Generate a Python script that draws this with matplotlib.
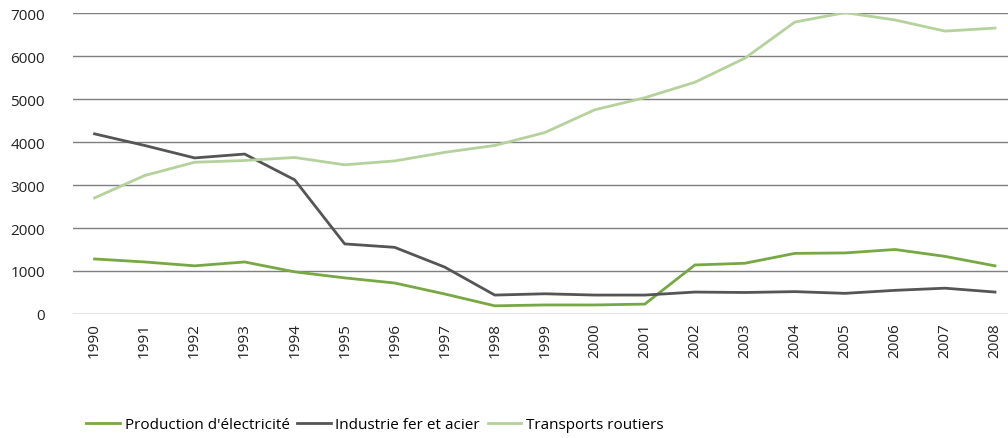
import numpy as np
import matplotlib
matplotlib.use("Agg")
import matplotlib.pyplot as plt

plt.rcParams["font.family"] = ["Open Sans", "DejaVu Sans"]

# ── données ──
years = list(range(1990, 2009))
electricite = [1280, 1210, 1120, 1210, 980, 840, 720, 465, 190, 210, 210, 230,
               1140, 1180, 1410, 1420, 1500, 1340, 1120]
fer_acier = [4190, 3920, 3630, 3720, 3120, 1630, 1550, 1090, 440, 470, 440, 440,
             510, 500, 520, 480, 550, 600, 510]
transports = [2700, 3220, 3530, 3570, 3640, 3470, 3560, 3760, 3920, 4220, 4750, 5030,
              5390, 5950, 6790, 7010, 6840, 6580, 6650]

SERIES = [("Production d'électricité", electricite, "#77a843"),
          ("Industrie fer et acier", fer_acier, "#555555"),
          ("Transports routiers", transports, "#b5d29c")]

fig = plt.figure(figsize=(10.08, 4.39), dpi=100)
ax = fig.add_axes([0.072, 0.2825, 0.928, 0.6855])

for label, vals, col in SERIES:
    ax.plot(years, vals, color=col, lw=2.0, label=label, solid_joinstyle="round")

ax.set_ylim(0, 7000)
ax.set_yticks(np.arange(0, 7001, 1000))
ax.set_xlim(1989.56, 2008.26)
ax.set_xticks(years)
ax.set_xticklabels([str(y) for y in years], rotation=90, fontsize=11, color="#222222")
ax.tick_params(axis="y", labelsize=11, labelcolor="#222222", length=0, pad=20)
ax.tick_params(axis="x", length=0, pad=6)
ax.grid(axis="y", color="#7f7f7f", lw=1)
ax.set_axisbelow(True)
for s in ax.spines.values():
    s.set_visible(False)

fig.legend(loc="lower left", bbox_to_anchor=(0.072, -0.018), ncol=3, frameon=False,
           fontsize=11, handlelength=2.2, handletextpad=0.3, columnspacing=0.5)

fig.savefig("out.png", dpi=100)
